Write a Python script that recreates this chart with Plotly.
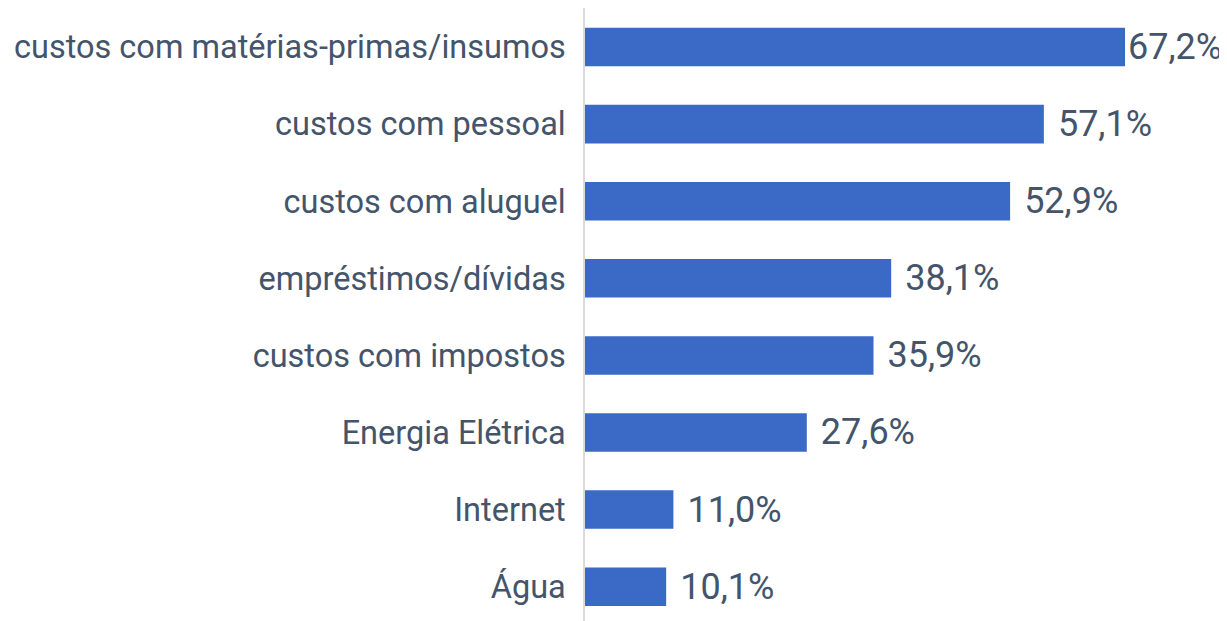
import plotly.graph_objects as go

categories = [
    "custos com matérias-primas/insumos",
    "custos com pessoal",
    "custos com aluguel",
    "empréstimos/dívidas",
    "custos com impostos",
    "Energia Elétrica",
    "Internet",
    "Água",
]
values = [67.2, 57.1, 52.9, 38.1, 35.9, 27.6, 11.0, 10.1]

labels = []
for i, v in enumerate(values):
    s = f"{v:.1f}%".replace(".", ",")
    labels.append(s if i == 0 else "\u2009\u200a" + s)

fig = go.Figure(
    go.Bar(
        x=values,
        y=categories,
        orientation="h",
        marker=dict(color="#3b69c6", line=dict(width=0)),
        width=0.5,
        text=labels,
        textposition="outside",
        constraintext="none",
        cliponaxis=False,
        textfont=dict(family="Roboto", size=36, color="#44546a"),
    )
)

fig.update_layout(
    width=1219,
    height=613,
    margin=dict(l=577, r=20, t=0, b=0),
    paper_bgcolor="white",
    plot_bgcolor="white",
    showlegend=False,
)
fig.update_xaxes(
    range=[0, 77.4],
    visible=False,
    showgrid=False,
    zeroline=False,
)
fig.update_yaxes(
    categoryorder="array",
    categoryarray=categories,
    range=[7.445, -0.506],
    showgrid=False,
    zeroline=False,
    showline=True,
    linecolor="#d9d9d9",
    linewidth=1.5,
    ticks="",
    ticklabelstandoff=11,
    tickfont=dict(family="Roboto", size=32.5, color="#44546a"),
)

fig.write_html("out.html")
